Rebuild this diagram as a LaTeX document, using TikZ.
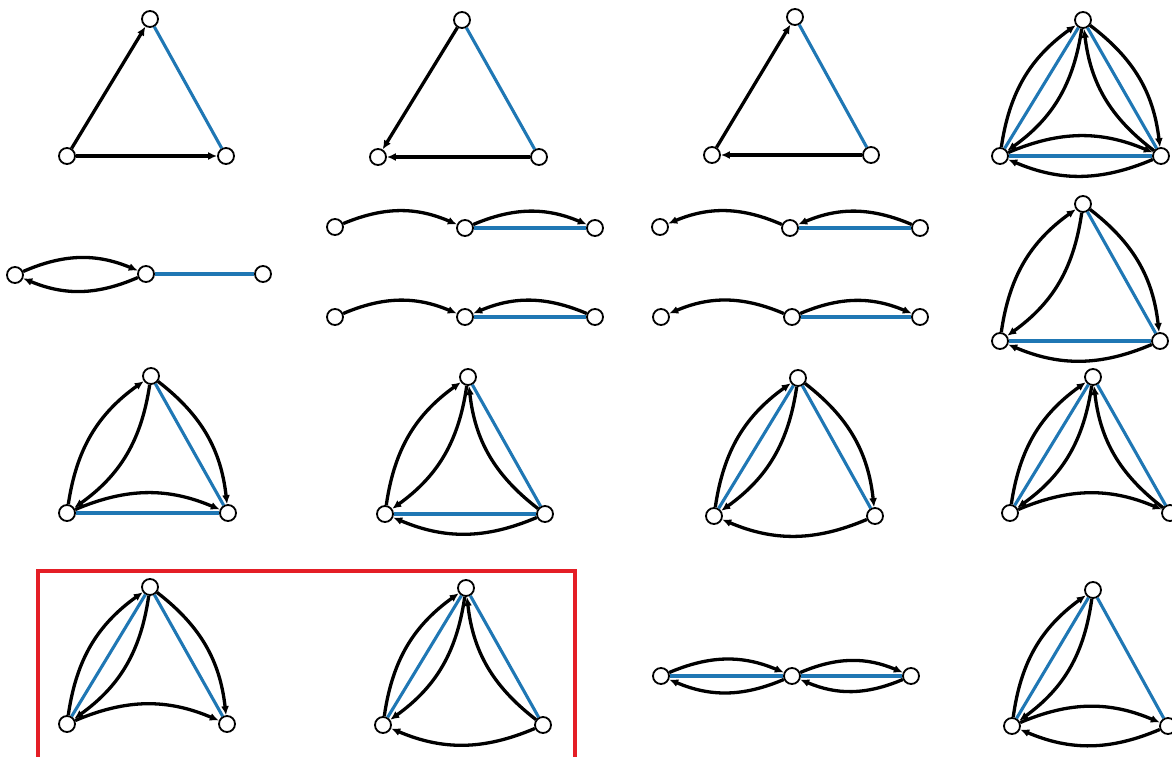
\documentclass[tikz,border=0pt]{standalone}
\usepackage{tikz}
\usetikzlibrary{arrows.meta}
\definecolor{edgeblue}{RGB}{31,119,180}
\definecolor{boxred}{RGB}{228,30,38}

\begin{document}
\begin{tikzpicture}[
  x=1pt, y=1pt, bend angle=23,
  vert/.style={circle, draw, fill=white, line width=1.8pt, minimum size=16pt, inner sep=0pt},
  arrow/.style={-{Latex[length=9pt,width=8pt]}, line width=3.3pt},
  undir/.style={draw=edgeblue, line width=3.1pt},
  frame/.style={draw=boxred, line width=4.5pt}
]
  \useasboundingbox (0,0) rectangle (1172,-757);

  % row 1
  \node[vert] (t1) at (150,-19) {};
  \node[vert] (l1) at (67,-156) {};
  \node[vert] (r1) at (226,-156) {};
  \draw[undir] (t1) -- (r1);
  \draw[arrow] (l1) -- (t1);
  \draw[arrow] (l1) -- (r1);

  \node[vert] (t2) at (462,-20) {};
  \node[vert] (l2) at (378,-157) {};
  \node[vert] (r2) at (539,-157) {};
  \draw[undir] (t2) -- (r2);
  \draw[arrow] (t2) -- (l2);
  \draw[arrow] (r2) -- (l2);

  \node[vert] (t3) at (795,-17) {};
  \node[vert] (l3) at (712,-155) {};
  \node[vert] (r3) at (871,-155) {};
  \draw[undir] (t3) -- (r3);
  \draw[arrow] (l3) -- (t3);
  \draw[arrow] (r3) -- (l3);

  \node[vert] (t4) at (1083,-20) {};
  \node[vert] (l4) at (1000,-156) {};
  \node[vert] (r4) at (1161,-156) {};
  \draw[undir] (t4) -- (l4);
  \draw[undir] (t4) -- (r4);
  \draw[undir] (l4) -- (r4);
  \draw[arrow] (l4) to[bend left] (t4);
  \draw[arrow] (t4) to[bend left] (l4);
  \draw[arrow] (t4) to[bend left] (r4);
  \draw[arrow] (r4) to[bend left] (t4);
  \draw[arrow] (l4) to[bend left] (r4);
  \draw[arrow] (r4) to[bend left] (l4);

  % row 2
  \node[vert] (a5) at (15,-275) {};
  \node[vert] (b5) at (146,-274) {};
  \node[vert] (c5) at (263,-274) {};
  \draw[undir] (b5) -- (c5);
  \draw[arrow] (a5) to[bend left] (b5);
  \draw[arrow] (b5) to[bend left] (a5);

  \node[vert] (a6) at (335,-227) {};
  \node[vert] (b6) at (465,-228) {};
  \node[vert] (c6) at (595,-228) {};
  \draw[undir] (b6) -- (c6);
  \draw[arrow] (a6) to[bend left] (b6);
  \draw[arrow] (b6) to[bend left] (c6);

  \node[vert] (a7) at (335,-317) {};
  \node[vert] (b7) at (465,-317) {};
  \node[vert] (c7) at (595,-317) {};
  \draw[undir] (b7) -- (c7);
  \draw[arrow] (a7) to[bend left] (b7);
  \draw[arrow] (c7) to[bend right] (b7);

  \node[vert] (a8) at (660,-227) {};
  \node[vert] (b8) at (790,-228) {};
  \node[vert] (c8) at (920,-228) {};
  \draw[undir] (b8) -- (c8);
  \draw[arrow] (b8) to[bend right] (a8);
  \draw[arrow] (c8) to[bend right] (b8);

  \node[vert] (a9) at (661,-317) {};
  \node[vert] (b9) at (792,-317) {};
  \node[vert] (c9) at (920,-317) {};
  \draw[undir] (b9) -- (c9);
  \draw[arrow] (b9) to[bend right] (a9);
  \draw[arrow] (b9) to[bend left] (c9);

  \node[vert] (t10) at (1083,-204) {};
  \node[vert] (l10) at (1000,-341) {};
  \node[vert] (r10) at (1160,-341) {};
  \draw[undir] (t10) -- (r10);
  \draw[undir] (l10) -- (r10);
  \draw[arrow] (l10) to[bend left] (t10);
  \draw[arrow] (t10) to[bend left] (l10);
  \draw[arrow] (t10) to[bend left] (r10);
  \draw[arrow] (r10) to[bend left] (l10);

  % row 3
  \node[vert] (t11) at (151,-376) {};
  \node[vert] (l11) at (67,-513) {};
  \node[vert] (r11) at (228,-513) {};
  \draw[undir] (t11) -- (r11);
  \draw[undir] (l11) -- (r11);
  \draw[arrow] (l11) to[bend left] (t11);
  \draw[arrow] (t11) to[bend left] (l11);
  \draw[arrow] (t11) to[bend left] (r11);
  \draw[arrow] (l11) to[bend left] (r11);

  \node[vert] (t12) at (468,-377) {};
  \node[vert] (l12) at (385,-514) {};
  \node[vert] (r12) at (545,-514) {};
  \draw[undir] (t12) -- (r12);
  \draw[undir] (l12) -- (r12);
  \draw[arrow] (l12) to[bend left] (t12);
  \draw[arrow] (t12) to[bend left] (l12);
  \draw[arrow] (r12) to[bend left] (t12);
  \draw[arrow] (r12) to[bend left] (l12);

  \node[vert] (t13) at (798,-378) {};
  \node[vert] (l13) at (714,-516) {};
  \node[vert] (r13) at (875,-516) {};
  \draw[undir] (t13) -- (l13);
  \draw[undir] (t13) -- (r13);
  \draw[arrow] (l13) to[bend left] (t13);
  \draw[arrow] (t13) to[bend left] (l13);
  \draw[arrow] (t13) to[bend left] (r13);
  \draw[arrow] (r13) to[bend left] (l13);

  \node[vert] (t14) at (1093,-377) {};
  \node[vert] (l14) at (1010,-513) {};
  \node[vert] (r14) at (1170,-513) {};
  \draw[undir] (t14) -- (l14);
  \draw[undir] (t14) -- (r14);
  \draw[arrow] (l14) to[bend left] (t14);
  \draw[arrow] (t14) to[bend left] (l14);
  \draw[arrow] (r14) to[bend left] (t14);
  \draw[arrow] (l14) to[bend left] (r14);

  % row 4
  \draw[frame] (38,-571) rectangle (575,-765);

  \node[vert] (t15) at (150,-587) {};
  \node[vert] (l15) at (67,-724) {};
  \node[vert] (r15) at (227,-724) {};
  \draw[undir] (t15) -- (l15);
  \draw[undir] (t15) -- (r15);
  \draw[arrow] (l15) to[bend left] (t15);
  \draw[arrow] (t15) to[bend left] (l15);
  \draw[arrow] (t15) to[bend left] (r15);
  \draw[arrow] (l15) to[bend left] (r15);

  \node[vert] (t16) at (466,-588) {};
  \node[vert] (l16) at (383,-725) {};
  \node[vert] (r16) at (543,-725) {};
  \draw[undir] (t16) -- (l16);
  \draw[undir] (t16) -- (r16);
  \draw[arrow] (l16) to[bend left] (t16);
  \draw[arrow] (t16) to[bend left] (l16);
  \draw[arrow] (r16) to[bend left] (t16);
  \draw[arrow] (r16) to[bend left] (l16);

  \node[vert] (a17) at (661,-676) {};
  \node[vert] (b17) at (792,-676) {};
  \node[vert] (c17) at (911,-676) {};
  \draw[undir] (a17) -- (b17);
  \draw[undir] (b17) -- (c17);
  \draw[arrow] (a17) to[bend left] (b17);
  \draw[arrow] (b17) to[bend left] (a17);
  \draw[arrow] (b17) to[bend left] (c17);
  \draw[arrow] (c17) to[bend left] (b17);

  \node[vert] (t18) at (1093,-590) {};
  \node[vert] (l18) at (1012,-726) {};
  \node[vert] (r18) at (1168,-726) {};
  \draw[undir] (t18) -- (l18);
  \draw[undir] (t18) -- (r18);
  \draw[arrow] (l18) to[bend left] (t18);
  \draw[arrow] (t18) to[bend left] (l18);
  \draw[arrow] (l18) to[bend left] (r18);
  \draw[arrow] (r18) to[bend left] (l18);
\end{tikzpicture}
\end{document}
